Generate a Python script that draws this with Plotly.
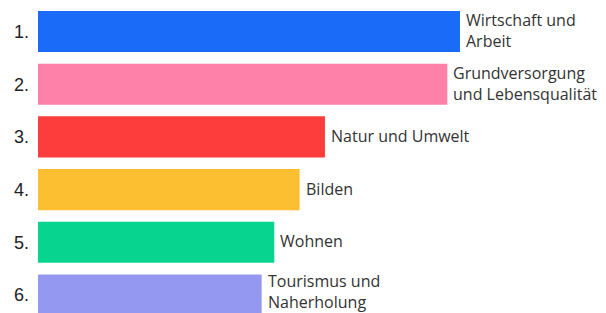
import plotly.graph_objects as go

ranks = ["1.", "2.", "3.", "4.", "5.", "6."]
categories = ["Wirtschaft und<br>Arbeit", "Grundversorgung<br>und Lebensqualität", "Natur und Umwelt",
              "Bilden", "Wohnen", "Tourismus und<br>Naherholung"]
values = [100, 97, 68, 62, 56, 53]
colors = ["#1a6bf7", "#fd81a8", "#fd3c3c", "#fdbf32", "#06d48f", "#9598f1"]

pos = list(range(len(values)))

fig = go.Figure()
fig.add_trace(go.Bar(
    x=values, y=pos, orientation="h",
    marker=dict(color=colors, line=dict(width=0)),
    width=0.78, hoverinfo="skip",
))

for i, (v, c) in enumerate(zip(values, categories)):
    fig.add_annotation(x=v, y=i, text=c, xref="x", yref="y", xanchor="left", yanchor="middle",
                       xshift=4, yshift=(3 if i == len(values) - 1 else 1), showarrow=False, align="left",
                       font=dict(family="Open Sans", size=16, color="#333333"))

fig.update_layout(
    width=606, height=313,
    margin=dict(l=38, r=0, t=0, b=0),
    plot_bgcolor="white", paper_bgcolor="white",
    showlegend=False,
    xaxis=dict(range=[0, 134.6], visible=False, fixedrange=True),
    yaxis=dict(range=[5.342, -0.598], tickvals=pos, ticktext=ranks, showgrid=False,
               zeroline=False, ticks="", ticklabelstandoff=8, automargin=False, fixedrange=True,
               tickfont=dict(family="Liberation Sans", size=18, color="#222222")),
)

fig.write_html("out.html", config={"displayModeBar": False},
               post_script="document.body.style.margin='0px';document.body.style.overflow='hidden';")
